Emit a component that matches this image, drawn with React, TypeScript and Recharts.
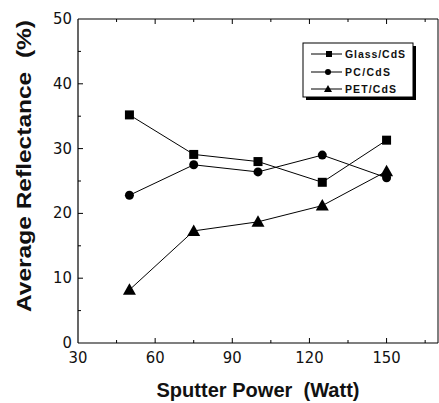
import React from 'react';
import { LineChart, Line, XAxis, YAxis } from 'recharts';

const powers = [50, 75, 100, 125, 150];
const glassCdS = [35.2, 29.1, 28.0, 24.8, 31.3];
const pcCdS = [22.8, 27.5, 26.4, 29.0, 25.5];
const petCdS = [8.2, 17.3, 18.7, 21.2, 26.5];
const xTicks = [30, 45, 60, 75, 90, 105, 120, 135, 150, 165];
const yTicks = [0, 5, 10, 15, 20, 25, 30, 35, 40, 45, 50];
const xLabels = [30, 60, 90, 120, 150];
const yLabels = [0, 10, 20, 30, 40, 50];

const data = powers.map((p, i) => ({ p, glass: glassCdS[i], pc: pcCdS[i], pet: petCdS[i] }));

const W = 439;
const H = 403;
const LEFT = 78;
const RIGHT = 438;
const TOP = 19;
const BOTTOM = 343;

const tickFont = "'Liberation Sans Narrow', 'DejaVu Sans Condensed', Arial, sans-serif";

const BottomTick = (props: any) => {
  const { x, payload } = props;
  const y = BOTTOM;
  const v = payload.value;
  const major = xLabels.includes(v);
  return (
    <g>
      {v !== 30 && <line x1={x} x2={x} y1={y} y2={y - (major ? 5 : 3)} stroke="#000" strokeWidth={1} />}
      {major && (
        <text x={x} y={y + 20} textAnchor="middle" fontFamily={tickFont} fontSize={16.5} fill="#111">
          {v}
        </text>
      )}
    </g>
  );
};

const TopTick = (props: any) => {
  const { x, payload } = props;
  const y = TOP;
  const v = payload.value;
  const major = xLabels.includes(v);
  if (v === 30) return <g />;
  return <line x1={x} x2={x} y1={y} y2={y + (major ? 5 : 3)} stroke="#000" strokeWidth={1} />;
};

const LeftTick = (props: any) => {
  const { y, payload } = props;
  const x = LEFT;
  const v = payload.value;
  const major = yLabels.includes(v);
  return (
    <g>
      {v !== 0 && v !== 50 && <line x1={x} x2={x + (major ? 5 : 3)} y1={y} y2={y} stroke="#000" strokeWidth={1} />}
      {major && (
        <text x={x - 6} y={y + 5} textAnchor="end" fontFamily={tickFont} fontSize={16.5} fill="#111">
          {v}
        </text>
      )}
    </g>
  );
};

const RightTick = (props: any) => {
  const { y, payload } = props;
  const x = RIGHT;
  const v = payload.value;
  const major = yLabels.includes(v);
  if (v === 0 || v === 50) return <g />;
  return <line x1={x} x2={x - (major ? 5 : 3)} y1={y} y2={y} stroke="#000" strokeWidth={1} />;
};

const Square = (props: any) => {
  const { cx, cy } = props;
  return <rect x={cx - 4.5} y={cy - 4.5} width={9} height={9} fill="#000" />;
};
const Circle = (props: any) => {
  const { cx, cy } = props;
  return <circle cx={cx} cy={cy} r={4.5} fill="#000" />;
};
const Triangle = (props: any) => {
  const { cx, cy } = props;
  return <polygon points={`${cx},${cy - 6.5} ${cx + 6.5},${cy + 5} ${cx - 6.5},${cy + 5}`} fill="#000" />;
};

const legendItems = [
  { name: 'Glass/CdS', y: 54, len: 60, shape: 'square' },
  { name: 'PC/CdS', y: 72, len: 45, shape: 'circle' },
  { name: 'PET/CdS', y: 89, len: 51, shape: 'triangle' },
];

export default function App() {
  return (
    <div style={{ position: 'absolute', left: 0, top: 0, width: W, height: H, background: '#fff' }}>
      <LineChart
        width={W}
        height={H}
        data={data}
        margin={{ top: TOP - 1, right: W - RIGHT - 1, bottom: H - BOTTOM - 1, left: LEFT - 1 }}
      >
        <XAxis
          xAxisId="b"
          dataKey="p"
          type="number"
          domain={[30, 170]}
          ticks={xTicks}
          interval={0}
          height={1}
          tickLine={false}
          tick={<BottomTick />}
          axisLine={{ stroke: '#000', strokeWidth: 1.2 }}
        />
        <XAxis
          xAxisId="t"
          orientation="top"
          dataKey="p"
          type="number"
          domain={[30, 170]}
          ticks={xTicks}
          interval={0}
          height={1}
          tickLine={false}
          tick={<TopTick />}
          axisLine={{ stroke: '#000', strokeWidth: 1.2 }}
        />
        <YAxis
          yAxisId="l"
          type="number"
          domain={[0, 50]}
          ticks={yTicks}
          interval={0}
          width={1}
          tickLine={false}
          tick={<LeftTick />}
          axisLine={{ stroke: '#000', strokeWidth: 1.2 }}
        />
        <YAxis
          yAxisId="r"
          orientation="right"
          type="number"
          domain={[0, 50]}
          ticks={yTicks}
          interval={0}
          width={1}
          tickLine={false}
          tick={<RightTick />}
          axisLine={{ stroke: '#000', strokeWidth: 1 }}
        />
        <Line xAxisId="b" yAxisId="l" dataKey="glass" stroke="#000" strokeWidth={1} dot={<Square />} isAnimationActive={false} />
        <Line xAxisId="b" yAxisId="l" dataKey="pc" stroke="#000" strokeWidth={1} dot={<Circle />} isAnimationActive={false} />
        <Line xAxisId="b" yAxisId="l" dataKey="pet" stroke="#000" strokeWidth={1} dot={<Triangle />} isAnimationActive={false} />
      </LineChart>
      <svg width={W} height={H} style={{ position: 'absolute', left: 0, top: 0, pointerEvents: 'none' }}>
        <text
          x={258}
          y={397}
          textAnchor="middle"
          fontFamily="'Liberation Sans', Arial, sans-serif"
          fontWeight="bold"
          fontSize={21}
          textLength={203}
          lengthAdjust="spacingAndGlyphs"
          fill="#111"
        >
          {'Sputter Power\u00a0\u00a0(Watt)'}
        </text>
        <text
          transform="translate(31,166) rotate(-90)"
          textAnchor="middle"
          fontFamily="'Liberation Sans', Arial, sans-serif"
          fontWeight="bold"
          fontSize={21}
          textLength={292}
          lengthAdjust="spacingAndGlyphs"
          fill="#111"
        >
          {'Average Reflectance\u00a0\u00a0(%)'}
        </text>
        <rect x={306} y={46} width={110} height={54} fill="#000" />
        <rect x={303} y={43} width={110} height={54} fill="#fff" stroke="#000" strokeWidth={1} />
        {legendItems.map((it) => (
          <g key={it.name}>
            <line x1={311} x2={342} y1={it.y} y2={it.y} stroke="#000" strokeWidth={1} />
            {it.shape === 'square' && <rect x={326} y={it.y - 3} width={6} height={6} fill="#000" />}
            {it.shape === 'circle' && <circle cx={328} cy={it.y} r={3} fill="#000" />}
            {it.shape === 'triangle' && (
              <polygon points={`328,${it.y - 4} 332,${it.y + 3} 324,${it.y + 3}`} fill="#000" />
            )}
            <text
              x={345}
              y={it.y + 4}
              fontFamily="'Liberation Sans', Arial, sans-serif"
              fontWeight="bold"
              fontSize={10.5}
              textLength={it.len}
              lengthAdjust="spacing"
              fill="#111"
            >
              {it.name}
            </text>
          </g>
        ))}
      </svg>
    </div>
  );
}
